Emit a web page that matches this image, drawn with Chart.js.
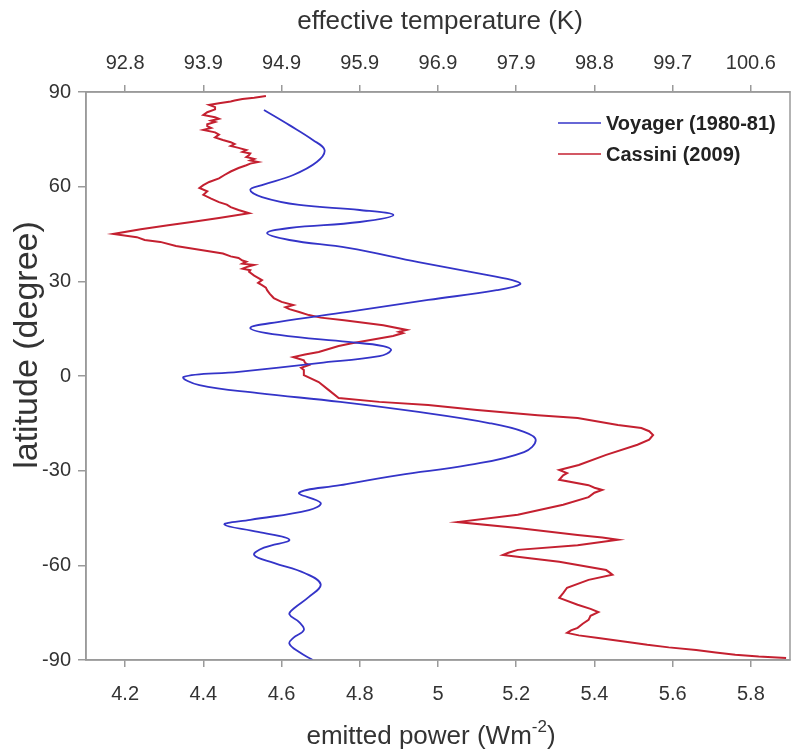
<!DOCTYPE html>
<html>
<head>
    <title>Emitted power vs latitude</title>
    <script src="https://cdn.jsdelivr.net/npm/chart.js"></script>
    <style>
        body { margin: 0; background: #fff; }
        #wrap { width: 794px; height: 753px; }
    </style>
</head>
<body>
<div id="wrap"><canvas id="powerChart" width="794" height="753"></canvas></div>
<script>
    // tick labels
    var powerTicks = [4.2, 4.4, 4.6, 4.8, 5, 5.2, 5.4, 5.6, 5.8];
    var tempTicks = ['92.8', '93.9', '94.9', '95.9', '96.9', '97.9', '98.8', '99.7', '100.6'];
    var latTicks = [-90, -60, -30, 0, 30, 60, 90];

    // Voyager (1980-81)
    var voyagerLat = [84.3, 79.5, 74.8, 71.6, 67.8, 63.7, 60.5, 59, 56.7, 54.2, 52.6, 51, 48.8, 46.9, 45.3, 43.1, 40.6, 36.1, 32.6, 30.4, 29.1, 27.2, 24.1, 20.3, 17.1, 15.2, 13, 10.8, 9.5, 8.2, 6.3, 4.1, 1.3, -0.3, -2.9, -5.4, -8.2, -11.4, -14.9, -17.7, -20.3, -24.1, -28.2, -31.4, -34.6, -37, -40.2, -42.5, -45.6, -47.1, -49.4, -51.9, -54.4, -56.7, -59.2, -62.5, -66, -70, -73.6, -75.5, -78, -80.5, -83, -84.8, -87.5, -90];
    var voyagerPower = [4.555, 4.62, 4.68, 4.71, 4.69, 4.63, 4.55, 4.52, 4.55, 4.645, 4.80, 4.886, 4.80, 4.62, 4.563, 4.62, 4.77, 4.95, 5.10, 5.19, 5.21, 5.15, 4.975, 4.77, 4.59, 4.52, 4.594, 4.77, 4.86, 4.88, 4.85, 4.695, 4.49, 4.35, 4.39, 4.54, 4.75, 4.95, 5.13, 5.22, 5.25, 5.22, 5.08, 4.9, 4.75, 4.645, 4.70, 4.67, 4.52, 4.454, 4.54, 4.62, 4.555, 4.53, 4.58, 4.66, 4.70, 4.67, 4.632, 4.62, 4.645, 4.657, 4.63, 4.62, 4.645, 4.68];

    // Cassini (2009) (noisy trace)
    var cassiniLat = [88.7, 88.2, 87.8, 87.3, 87.0, 86.4, 85.9, 85.2, 84.5, 83.6, 82.7, 82.0, 81.5, 80.9, 80.5, 79.8, 79.2, 78.6, 78, 77.2, 76.5, 75.6, 74.8, 74.1, 73.5, 72.9, 72.3, 71.6, 71, 70.5, 70, 69.4, 68.8, 68.3, 67.8, 67.3, 66.8, 65.9, 64.8, 63.7, 62.6, 61.5, 60.5, 59.6, 58.5, 57.4, 56.2, 55.1, 54.3, 53.5, 52.6, 51.6, 50.1, 48.8, 47.8, 46.5, 45, 44, 43.1, 42.5, 41.2, 40, 38.8, 37.9, 37.4, 36.6, 36.2, 35.6, 35.2, 34.5, 34, 33.5, 33, 31.8, 30.4, 29.5, 28.8, 28, 27.2, 26, 24.7, 23.5, 22.5, 21.8, 21.2, 20.3, 19.3, 18.5, 17.7, 16.1, 14.6, 14.0, 13.6, 12.7, 10.4, 9.5, 7.6, 6.8, 6, 5, 4.2, 3.5, 2.6, 1.9, 0.3, -1.9, -4.4, -7, -8.2, -9.2, -10.8, -12.4, -13.3, -15.5, -16.5, -17.5, -18.7, -20.2, -21.8, -25, -28.2, -29.8, -30.8, -31.5, -32.9, -34.6, -35.4, -36.1, -37.0, -38.4, -40.8, -44, -46.3, -48.2, -50.4, -51.2, -51.9, -53.6, -55.1, -56.0, -56.7, -57.8, -58.9, -61.5, -62.4, -63, -64.6, -67.1, -68.8, -70.3, -72.5, -73.8, -74.8, -76.0, -77.3, -78.5, -79.8, -80.6, -81.4, -82.2, -83, -84.2, -85.2, -86.0, -86.8, -87.6, -88.3, -88.9, -89.4];
    var cassiniPower = [4.56, 4.53, 4.50, 4.48, 4.47, 4.44, 4.415, 4.43, 4.43, 4.41, 4.40, 4.43, 4.44, 4.42, 4.43, 4.41, 4.41, 4.42, 4.40, 4.43, 4.44, 4.43, 4.45, 4.47, 4.48, 4.47, 4.49, 4.51, 4.50, 4.52, 4.517, 4.51, 4.53, 4.52, 4.54, 4.52, 4.51, 4.49, 4.47, 4.454, 4.44, 4.415, 4.40, 4.39, 4.41, 4.40, 4.42, 4.44, 4.46, 4.47, 4.49, 4.517, 4.44, 4.37, 4.31, 4.24, 4.17, 4.23, 4.25, 4.29, 4.33, 4.39, 4.45, 4.47, 4.49, 4.50, 4.51, 4.50, 4.53, 4.51, 4.50, 4.52, 4.517, 4.53, 4.55, 4.54, 4.55, 4.56, 4.563, 4.57, 4.58, 4.60, 4.63, 4.61, 4.62, 4.645, 4.67, 4.70, 4.76, 4.86, 4.92, 4.90, 4.91, 4.885, 4.78, 4.746, 4.695, 4.66, 4.63, 4.657, 4.66, 4.67, 4.65, 4.657, 4.657, 4.695, 4.72, 4.746, 4.85, 4.975, 5.10, 5.255, 5.357, 5.46, 5.52, 5.54, 5.55, 5.54, 5.51, 5.43, 5.36, 5.31, 5.33, 5.32, 5.31, 5.385, 5.40, 5.42, 5.40, 5.385, 5.32, 5.204, 5.05, 5.204, 5.357, 5.42, 5.46, 5.357, 5.204, 5.18, 5.166, 5.24, 5.31, 5.43, 5.44, 5.446, 5.385, 5.33, 5.32, 5.31, 5.357, 5.39, 5.41, 5.39, 5.385, 5.37, 5.357, 5.34, 5.33, 5.36, 5.41, 5.48, 5.535, 5.59, 5.66, 5.71, 5.76, 5.82, 5.89];

    function toPoints(xs, ys) {
        return xs.map(function (x, i) { return {x: x, y: ys[i]}; });
    }

    var textColor = '#333333';
    var axisColor = '#9a9a9a';

    // titles, legend and frame are drawn here
    var decorPlugin = {
        id: 'decor',
        afterDraw: function (chart) {
            var ctx = chart.ctx;
            var area = chart.chartArea;
            ctx.save();
            ctx.strokeStyle = axisColor;
            ctx.lineWidth = 1.5;
            ctx.strokeRect(area.left, area.top, area.right - area.left, area.bottom - area.top);

            ctx.fillStyle = textColor;
            ctx.textBaseline = 'middle';
            ctx.textAlign = 'center';
            ctx.font = '26px "Liberation Sans", Arial, sans-serif';
            ctx.fillText('effective temperature (K)', 440, 22);

            // bottom title with superscript
            var a = 'emitted power (Wm', sup = '-2', b = ')';
            var wa = ctx.measureText(a).width, wb = ctx.measureText(b).width;
            ctx.font = '17px "Liberation Sans", Arial, sans-serif';
            var ws = ctx.measureText(sup).width;
            var x0 = 431 - (wa + ws + wb) / 2;
            ctx.textAlign = 'left';
            ctx.font = '26px "Liberation Sans", Arial, sans-serif';
            ctx.fillText(a, x0, 737);
            ctx.font = '17px "Liberation Sans", Arial, sans-serif';
            ctx.fillText(sup, x0 + wa, 727);
            ctx.font = '26px "Liberation Sans", Arial, sans-serif';
            ctx.fillText(b, x0 + wa + ws, 737);

            ctx.save();
            ctx.translate(28, 345);
            ctx.rotate(-Math.PI / 2);
            ctx.textAlign = 'center';
            ctx.font = '34px "Liberation Sans", Arial, sans-serif';
            ctx.fillText('latitude (degree)', 0, 0);
            ctx.restore();

            // legend
            chart.data.datasets.forEach(function (ds, i) {
                var y = 123 + 31 * i;
                ctx.strokeStyle = ds.borderColor;
                ctx.lineWidth = 1.5;
                ctx.beginPath();
                ctx.moveTo(558, y);
                ctx.lineTo(601, y);
                ctx.stroke();
                ctx.fillStyle = '#222';
                ctx.textAlign = 'left';
                ctx.font = 'bold 20px "Liberation Sans", Arial, sans-serif';
                ctx.fillText(ds.label, 606, y + 1);
            });
            ctx.restore();
        }
    };

    var tickFont = {family: '"Liberation Sans", Arial, sans-serif', size: 20};

    var ctx = document.getElementById('powerChart').getContext('2d');
    var myChart = new Chart(ctx, {
        type: 'scatter',
        data: {
            datasets: [{
                label: 'Voyager (1980-81)',
                data: toPoints(voyagerPower, voyagerLat),
                showLine: true,
                borderColor: '#3434c8',
                borderWidth: 1.8,
                pointRadius: 0,
                tension: 0.4
            }, {
                label: 'Cassini (2009)',
                data: toPoints(cassiniPower, cassiniLat),
                showLine: true,
                borderColor: '#c42030',
                borderWidth: 2,
                pointRadius: 0,
                tension: 0
            }]
        },
        options: {
            responsive: false,
            animation: false,
            layout: { padding: { left: 0, right: 4, top: 0, bottom: 0 } },
            plugins: {
                legend: { display: false },
                tooltip: { enabled: false }
            },
            scales: {
                x: {
                    type: 'linear',
                    position: 'bottom',
                    min: 4.1,
                    max: 5.9,
                    afterBuildTicks: function (scale) {
                        scale.ticks = powerTicks.map(function (v) { return {value: v}; });
                    },
                    afterFit: function (scale) { scale.height = 93; },
                    ticks: {
                        color: textColor,
                        font: tickFont,
                        padding: 15,
                        maxRotation: 0,
                        callback: function (v) { return String(v); }
                    },
                    grid: { drawOnChartArea: false, drawTicks: true, tickLength: 7, color: axisColor, lineWidth: 1.5 },
                    border: { color: axisColor, width: 1.5 }
                },
                x2: {
                    type: 'linear',
                    position: 'top',
                    min: 4.1,
                    max: 5.9,
                    afterBuildTicks: function (scale) {
                        scale.ticks = powerTicks.map(function (v) { return {value: v}; });
                    },
                    afterFit: function (scale) { scale.height = 92; },
                    ticks: {
                        color: textColor,
                        font: tickFont,
                        padding: 10,
                        maxRotation: 0,
                        callback: function (v, i) { return tempTicks[i]; }
                    },
                    grid: { drawOnChartArea: false, drawTicks: true, tickLength: 7, color: axisColor, lineWidth: 1.5 },
                    border: { color: axisColor, width: 1.5 }
                },
                y: {
                    type: 'linear',
                    min: -90,
                    max: 90,
                    afterBuildTicks: function (scale) {
                        scale.ticks = latTicks.map(function (v) { return {value: v}; });
                    },
                    afterFit: function (scale) { scale.width = 86; },
                    ticks: {
                        color: textColor,
                        font: tickFont,
                        padding: 7,
                        callback: function (v) { return String(v); }
                    },
                    grid: { drawOnChartArea: false, drawTicks: true, tickLength: 8, color: axisColor, lineWidth: 1.5 },
                    border: { color: axisColor, width: 1.5 }
                }
            }
        },
        plugins: [decorPlugin]
    });
</script>
</body>
</html>
